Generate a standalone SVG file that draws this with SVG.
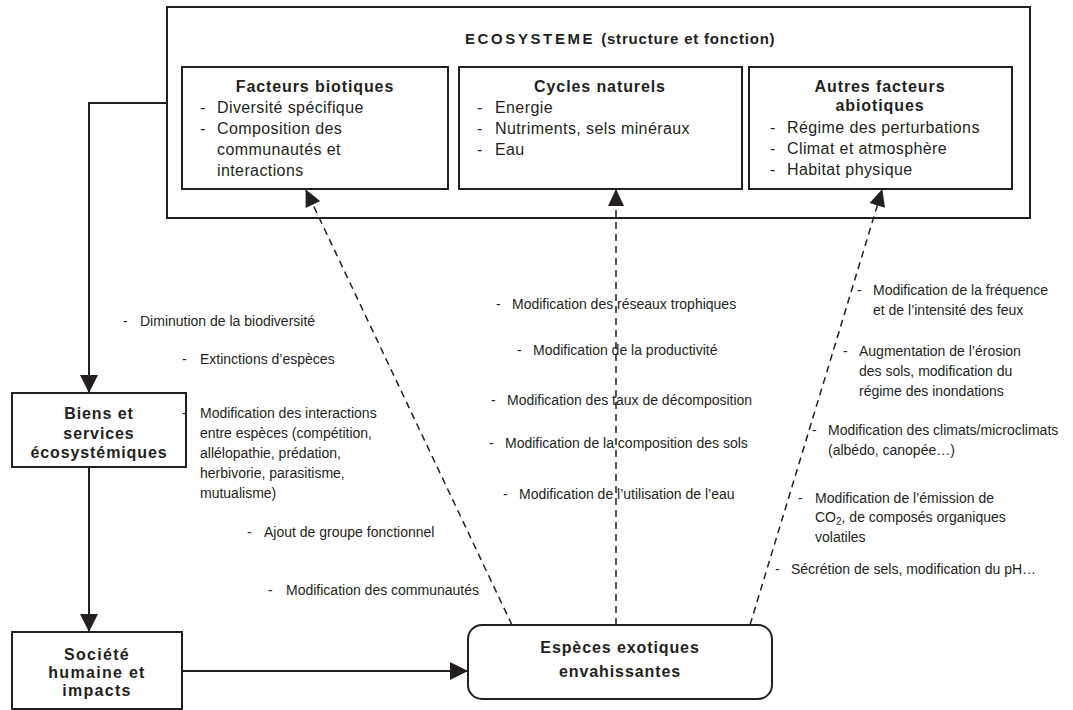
<svg xmlns="http://www.w3.org/2000/svg" width="1073" height="710" viewBox="0 0 1073 710">
<defs>
<style>
.box{fill:#fff;stroke:#231f20;stroke-width:2}
.ln{fill:none;stroke:#231f20;stroke-width:2}
.dl{fill:none;stroke:#231f20;stroke-width:1.5;stroke-dasharray:7 5}
text{font-family:"Liberation Sans",Arial,Helvetica,sans-serif;fill:#231f20}
.h{font-size:16px;font-weight:bold;letter-spacing:0.9px;text-anchor:middle}
.it{font-size:16px;letter-spacing:0.4px}
.lb{font-size:14px}
.ttl{font-size:15px;font-weight:bold}
</style>
<marker id="ah" viewBox="0 0 18 18" refX="17" refY="9" markerWidth="18" markerHeight="18" orient="auto" markerUnits="userSpaceOnUse">
<path d="M0,0 L18,9 L0,18 z" fill="#231f20"/>
</marker>
<marker id="ahd" viewBox="0 0 18 18" refX="17" refY="9" markerWidth="18" markerHeight="17" orient="auto" markerUnits="userSpaceOnUse">
<path d="M0,0.5 L18,9 L0,17.5 z" fill="#231f20"/>
</marker>
</defs>

<g id="ecosysteme">
<rect class="box" x="167" y="7" width="863" height="211"/>
<text class="ttl" x="465" y="44"><tspan letter-spacing="2.6">ECOSYSTEME</tspan><tspan dx="6" letter-spacing="0.8">(structure et fonction)</tspan></text>
</g>

<g id="facteurs-biotiques">
<rect class="box" x="182" y="67" width="266" height="122"/>
<text class="h" x="315" y="92">Facteurs biotiques</text>
<text class="it" x="200" y="113">-</text><text class="it" x="217" y="113">Diversité spécifique</text>
<text class="it" x="200" y="134">-</text><text class="it" x="217" y="134">Composition des</text>
<text class="it" x="217" y="155">communautés et</text>
<text class="it" x="217" y="176">interactions</text>
</g>

<g id="cycles-naturels">
<rect class="box" x="459" y="67" width="283" height="122"/>
<text class="h" x="600" y="92">Cycles naturels</text>
<text class="it" x="477" y="113">-</text><text class="it" x="495" y="113">Energie</text>
<text class="it" x="477" y="134">-</text><text class="it" x="495" y="134">Nutriments, sels minéraux</text>
<text class="it" x="477" y="155">-</text><text class="it" x="495" y="155">Eau</text>
</g>

<g id="autres-facteurs">
<rect class="box" x="749" y="67" width="263" height="122"/>
<text class="h" x="880" y="92">Autres facteurs</text>
<text class="h" x="880" y="111">abiotiques</text>
<text class="it" x="770" y="133">-</text><text class="it" x="787" y="133">Régime des perturbations</text>
<text class="it" x="770" y="154">-</text><text class="it" x="787" y="154">Climat et atmosphère</text>
<text class="it" x="770" y="175">-</text><text class="it" x="787" y="175">Habitat physique</text>
</g>

<g id="biens-services">
<rect class="box" x="12" y="393" width="174" height="74"/>
<text class="h" x="99" y="419">Biens et</text>
<text class="h" x="99" y="439">services</text>
<text class="h" x="99" y="458">écosystémiques</text>
</g>

<g id="societe">
<rect class="box" x="12" y="632" width="170" height="77"/>
<text class="h" x="97" y="660" style="letter-spacing:1.3px">Société</text>
<text class="h" x="97" y="678" style="letter-spacing:1.3px">humaine et</text>
<text class="h" x="97" y="696" style="letter-spacing:1.3px">impacts</text>
</g>

<g id="especes">
<rect class="box" x="468" y="625" width="304" height="74" rx="14"/>
<text class="h" x="620" y="653">Espèces exotiques</text>
<text class="h" x="620" y="677">envahissantes</text>
</g>

<g id="connectors">
<path class="ln" d="M167,103 H89 V392" marker-end="url(#ah)"/>
<path class="ln" d="M89,467 V631" marker-end="url(#ah)"/>
<path class="ln" d="M182,671 H467" marker-end="url(#ah)"/>
<path class="dl" d="M512,625 L306,190" marker-end="url(#ahd)"/>
<path class="dl" d="M616,625 L616,190" marker-end="url(#ahd)"/>
<path class="dl" d="M750,625 L882,190" marker-end="url(#ahd)"/>
</g>

<g id="labels-left">
<text class="lb" x="123" y="326">-</text><text class="lb" x="140" y="326">Diminution de la biodiversité</text>
<text class="lb" x="182" y="364">-</text><text class="lb" x="200" y="364">Extinctions d’espèces</text>
<text class="lb" x="182" y="418">-</text><text class="lb" x="200" y="418">Modification des interactions</text>
<text class="lb" x="200" y="438">entre espèces (compétition,</text>
<text class="lb" x="200" y="458">allélopathie, prédation,</text>
<text class="lb" x="200" y="478">herbivorie, parasitisme,</text>
<text class="lb" x="200" y="498">mutualisme)</text>
<text class="lb" x="247" y="537">-</text><text class="lb" x="264" y="537">Ajout de groupe fonctionnel</text>
<text class="lb" x="268" y="595">-</text><text class="lb" x="286" y="595">Modification des communautés</text>
</g>

<g id="labels-middle">
<text class="lb" x="496" y="309">-</text><text class="lb" x="512" y="309">Modification des réseaux trophiques</text>
<text class="lb" x="517" y="355">-</text><text class="lb" x="533" y="355">Modification de la productivité</text>
<text class="lb" x="491" y="405">-</text><text class="lb" x="507" y="405">Modification des taux de décomposition</text>
<text class="lb" x="489" y="448">-</text><text class="lb" x="505" y="448">Modification de la composition des sols</text>
<text class="lb" x="503" y="499">-</text><text class="lb" x="519" y="499">Modification de l’utilisation de l’eau</text>
</g>

<g id="labels-right">
<text class="lb" x="857" y="295">-</text><text class="lb" x="873" y="295">Modification de la fréquence</text>
<text class="lb" x="873" y="315">et de l’intensité des feux</text>
<text class="lb" x="843" y="356">-</text><text class="lb" x="859" y="356">Augmentation de l’érosion</text>
<text class="lb" x="859" y="376">des sols, modification du</text>
<text class="lb" x="859" y="396">régime des inondations</text>
<text class="lb" x="812" y="435">-</text><text class="lb" x="828" y="435">Modification des climats/microclimats</text>
<text class="lb" x="828" y="455">(albédo, canopée…)</text>
<text class="lb" x="798" y="503">-</text><text class="lb" x="815" y="503">Modification de l’émission de</text>
<text class="lb" x="815" y="522">CO<tspan font-size="10" dy="3">2</tspan><tspan dy="-3">, de composés organiques</tspan></text>
<text class="lb" x="815" y="542">volatiles</text>
<text class="lb" x="775" y="574">-</text><text class="lb" x="791" y="574">Sécrétion de sels, modification du pH…</text>
</g>
</svg>
